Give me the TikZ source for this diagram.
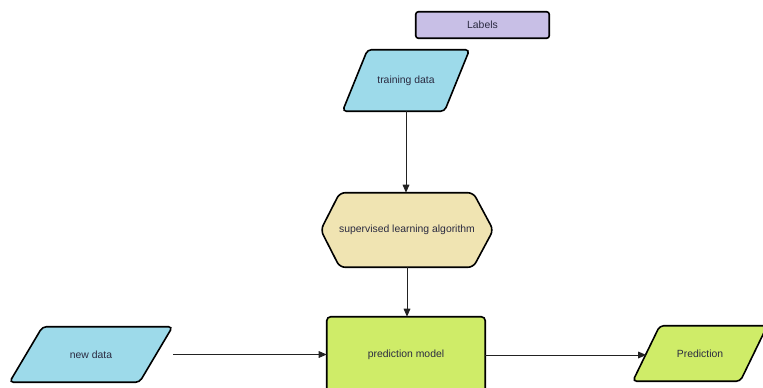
\documentclass[tikz,border=0pt]{standalone}
\usepackage{fontspec}
\setmainfont{Liberation Sans}
\usetikzlibrary{arrows.meta,backgrounds}

\definecolor{labelfill}{HTML}{C8BFE6}
\definecolor{datafill}{HTML}{9DDAEA}
\definecolor{algofill}{HTML}{F0E4B2}
\definecolor{modelfill}{HTML}{CFEC68}
\definecolor{txt}{HTML}{2A2A40}
\definecolor{linkc}{HTML}{222222}

% parallelogram behind a text node: #1 node name, #2 fill, #3 half slant (px)
\newcommand\drawslanted[3]{%
  \filldraw[outline, fill=#2]
    ([xshift=#3*0.75pt]#1.north west) -- ([xshift=#3*0.75pt]#1.north east) --
    ([xshift=-#3*0.75pt]#1.south east) -- ([xshift=-#3*0.75pt]#1.south west) -- cycle;}

\begin{document}
\begin{tikzpicture}[x=0.75pt,y=-0.75pt,
  lbl/.style={inner sep=0pt, font=\fontsize{7.8}{9}\selectfont, text=txt},
  outline/.style={draw=black, line width=1.2pt, rounded corners=3pt},
  link/.style={draw=linkc, line width=0.75pt, -{Triangle[length=6pt,width=5pt]}}]
\useasboundingbox (0,0) rectangle (763,387);
\clip (0,0) rectangle (763,387);

% text nodes, sized to the shapes drawn behind them
\node[lbl, minimum width=133*0.75pt, minimum height=26*0.75pt] (labels) at (482.5,25) {Labels};
\node[lbl, minimum width=101.5*0.75pt, minimum height=61*0.75pt] (train) at (406,80.5) {training data};
\node[lbl, minimum width=172*0.75pt, minimum height=74*0.75pt] (algo) at (407,230) {supervised learning algorithm};
\node[lbl, minimum width=158*0.75pt, minimum height=76*0.75pt] (model) at (406,355) {prediction model};
\node[lbl, minimum width=129.5*0.75pt, minimum height=55*0.75pt] (newdata) at (91,354.5) {new data};
\node[lbl, minimum width=107*0.75pt, minimum height=55*0.75pt] (pred) at (700,353.5) {Prediction};

\begin{scope}[on background layer]
  \filldraw[outline, rounded corners=2pt, fill=labelfill]
    (labels.north west) rectangle (labels.south east);
  \drawslanted{train}{datafill}{12.5}
  \drawslanted{newdata}{datafill}{16.5}
  \drawslanted{pred}{modelfill}{13.5}
  \filldraw[outline, rounded corners=4pt, fill=algofill]
    (algo.west) -- ([xshift=19*0.75pt]algo.north west) -- ([xshift=-20*0.75pt]algo.north east) --
    (algo.east) -- ([xshift=-20*0.75pt]algo.south east) -- ([xshift=19*0.75pt]algo.south west) -- cycle;
  \filldraw[outline, fill=modelfill]
    (model.north west) rectangle (model.south east);
\end{scope}

% connectors
\draw[link] (train.south) -- (train.south |- algo.north);
\draw[link] (algo.south) -- (algo.south |- model.north);
\draw[link] ([xshift=17*0.75pt]newdata.east) -- (newdata.east -| model.west);
\draw[link] (model.east) -- (model.east -| pred.west);
\end{tikzpicture}
\end{document}
